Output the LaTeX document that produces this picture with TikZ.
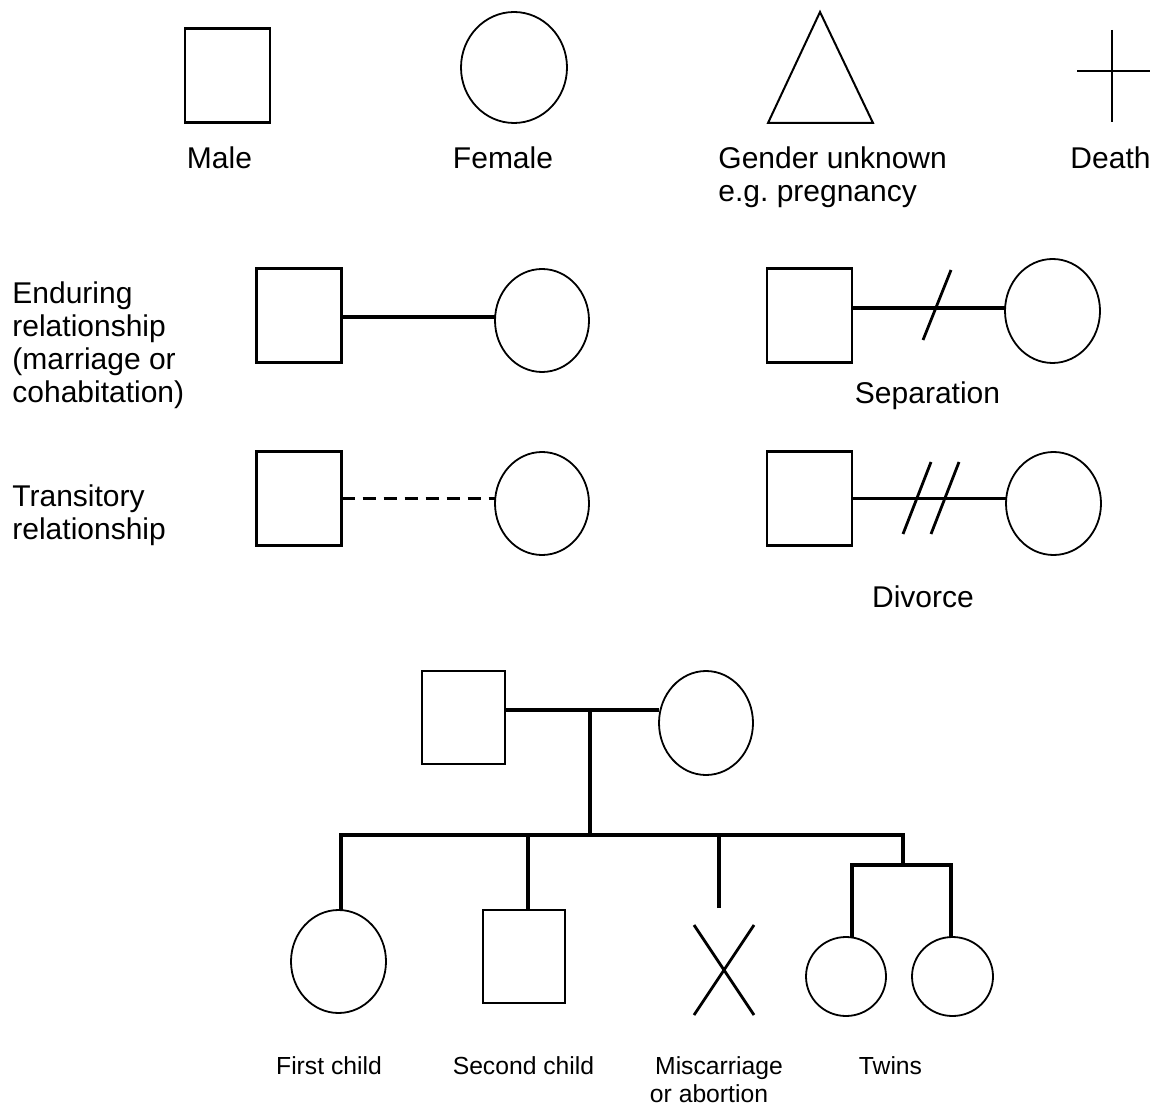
\documentclass[tikz,border=0pt]{standalone}
\usepackage{fontspec}
\setmainfont{Liberation Sans}
\usetikzlibrary{shapes.geometric}
\frenchspacing
\begin{document}
\begin{tikzpicture}[x=0.5pt,y=-0.5pt,
  male/.style={draw, line width=1.1pt, rectangle, inner sep=0pt, outer sep=0pt, minimum width=42.5pt, minimum height=47pt},
  fem/.style={draw, line width=0.9pt, ellipse, inner sep=0pt, outer sep=0pt},
  lbl/.style={font=\fontsize{15}{16.5}\selectfont, inner sep=0pt, anchor=base},
  lblw/.style={lbl, anchor=base west},
  slbl/.style={font=\fontsize{12.35}{14.5}\selectfont, inner sep=0pt, anchor=base},
  link/.style={line width=1.6pt},
  tickline/.style={line width=1.4pt},
]
\useasboundingbox (0,0) rectangle (1155,1106);

% ---- legend row ----
\node[male] (m1) at (227.5,75.5) {};
\node[fem, minimum width=53pt, minimum height=55.5pt] (f1) at (514,67.5) {};
\coordinate (tri) at (820,12);
\draw[line width=1pt, line join=miter] (tri) -- (873,123) -- (768,123) -- cycle;
\coordinate (cross) at (1112,71);
\draw[tickline] (cross |- 0,30) -- (cross |- 0,122);
\draw[tickline] (1077,71) -- (1150,71);

\node[lbl] (lmale) at (219.5,168.5) {Male};
\node[lbl] (lfem) at (503,168.5) {Female};
\node[lblw] (lgen1) at (718,168.5) {Gender unknown};
\node[lblw] (lgen2) at (718,201.5) {e.g. pregnancy};
\node[lbl] (ldeath) at (1110.5,168.5) {Death};

% ---- enduring ----
\node[lblw] (e1) at (12,303.5) {Enduring};
\node[lblw] (e2) at (12,336.5) {relationship};
\node[lblw] (e3) at (12,369.5) {(marriage or};
\node[lblw] (e4) at (12,402.5) {cohabitation)};
\node[male] (m2) at (299,315.5) {};
\node[fem, minimum width=47pt, minimum height=51.5pt] (f2) at (542,320.5) {};
\draw[link] (m2.east) ++(0,1.5) coordinate (m2r) -- (m2r -| f2.west);

% ---- transitory ----
\node[lblw] (t1) at (12,506.5) {Transitory};
\node[lblw] (t2) at (12,539.5) {relationship};
\node[male] (m3) at (299,498.5) {};
\node[fem, minimum width=47pt, minimum height=51.5pt] (f3) at (542,503.5) {};
\draw[link, dash pattern=on 6.5pt off 4pt] (m3.east) -- (m3.east -| f3.west);

% ---- separation ----
\node[male] (ms) at (809.5,315.5) {};
\node[fem, minimum width=47.5pt, minimum height=52pt] (fs) at (1052.5,311) {};
\draw[link] (ms.east |- 0,308) coordinate (msr) -- (msr -| fs.west);
\draw[tickline] (923,340) -- (951,270);
\node[lbl] (lsep) at (927.5,403.5) {Separation};

% ---- divorce ----
\node[male] (md) at (809.5,498.5) {};
\node[fem, minimum width=47.5pt, minimum height=51.5pt] (fd) at (1053.5,503.5) {};
\draw[link] (md.east) -- (md.east -| fd.west);
\draw[tickline] (903,534) -- (931,462);
\draw[tickline] (931,534) -- (959,462);
\node[lbl] (ldiv) at (923,607.5) {Divorce};

% ---- family ----
\node[male, minimum width=41.5pt, minimum height=46.5pt] (fa) at (463.5,717.5) {};
\node[fem, minimum width=47pt, minimum height=52pt] (mo) at (706,723) {};
\coordinate (mj) at (590,710);
\coordinate (sj) at (590,835);
\draw[link] (fa.east |- mj) -- (mj -| mo.west);
\draw[link] (mj) -- (sj);

\node[fem, minimum width=47.5pt, minimum height=51.5pt] (c1) at (338.5,961.5) {};
\node[male, minimum width=41pt, minimum height=46.5pt] (c2) at (524,956.5) {};
\coordinate (mc) at (719,908);
\node[fem, minimum width=40pt, minimum height=39.5pt] (tw1) at (846,976.5) {};
\node[fem, minimum width=40.5pt, minimum height=39.5pt] (tw2) at (952.5,976.5) {};
\coordinate (tj) at (903,835);
\coordinate (tw) at (903,865);

\coordinate (c1t) at (341,910);
\coordinate (c2t) at (528,910);
\draw[link] (c1t) |- (tj) -- (tw);
\draw[link] (c2t) -- (c2t |- sj);
\draw[link] (mc) -- (mc |- sj);
\draw[link] (852,937) coordinate (tw1t) |- (tw) -| (951,937) coordinate (tw2t);
\draw[tickline] (694,925) -- (754,1015);
\draw[tickline] (754,925) -- (694,1015);

\node[slbl] (l1) at (329,1074) {First child};
\node[slbl] (l2) at (523.5,1074) {Second child};
\node[slbl] (l3) at (719,1074) {Miscarriage};
\node[slbl] (l3b) at (709,1102.5) {or abortion};
\node[slbl] (l4) at (890.5,1074) {Twins};
\end{tikzpicture}
\end{document}
